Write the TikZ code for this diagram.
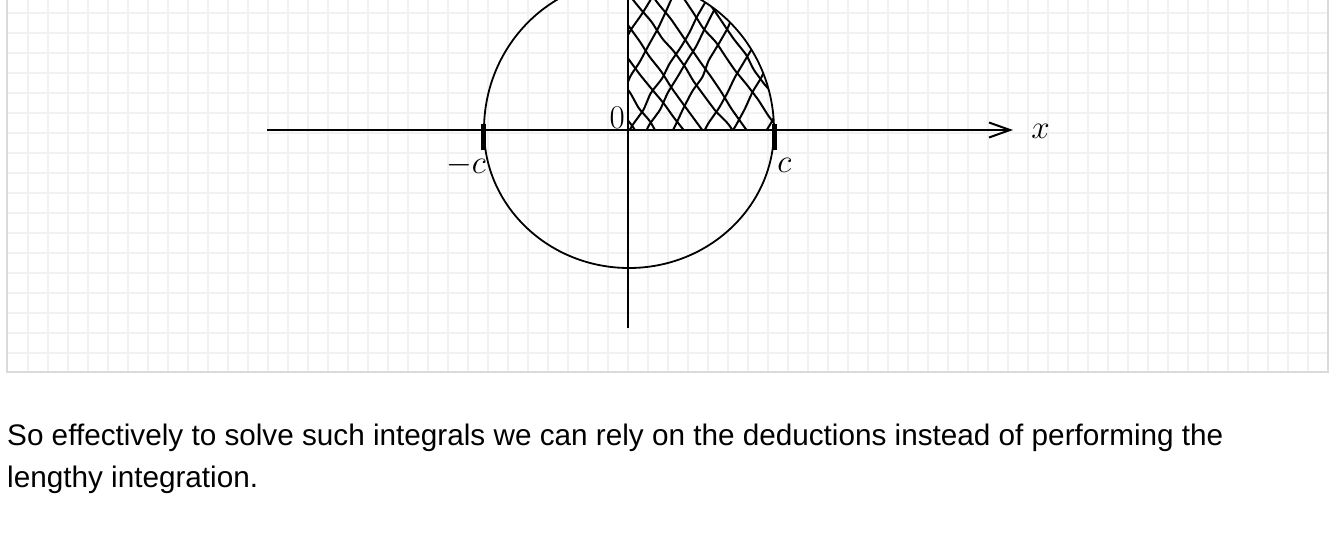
\documentclass[tikz,border=0pt]{standalone}
\usepackage{fontspec}
\usepackage{tikz}
\usetikzlibrary{arrows.meta, positioning, decorations.pathmorphing}
\newfontfamily\notefont{Liberation Sans}
\definecolor{gridgray}{RGB}{241,241,241}
\definecolor{framegray}{RGB}{218,218,218}
\tikzset{
  gridline/.style={draw=gridgray, line width=1.5pt},
  frame/.style={draw=framegray, line width=1.5pt},
  axis/.style={line width=2pt},
  curve/.style={line width=1.8pt},
  hatch/.style={line width=2pt, line cap=round, line join=round, rounded corners=3pt,
    decorate, decoration={random steps, segment length=18pt, amplitude=1.5pt}},
  tickmark/.style={line width=5pt},
  mathlabel/.style={font=\Huge, scale=1.33, transform shape, inner sep=0pt},
  note/.style={font=\notefont\fontsize{29.7}{42}\selectfont, inner sep=0pt}
}

\begin{document}
\begin{tikzpicture}[x=1pt, y=1pt]
  \pgfmathsetseed{11}
  \useasboundingbox (-629,-412) rectangle (711,130);
  \clip (-629,-412) rectangle (711,130);

  % Squared paper panel
  \foreach \gx in {-601,-581,...,679}
    \draw[gridline] (\gx,-242) -- (\gx,140);
  \foreach \gy in {-223,-203,...,117}
    \draw[gridline] (-622,\gy) -- (699,\gy);
  \draw[frame] (-622,140) -- (-622,-242) -- (699,-242) -- (699,140);

  % Hatched quarter
  \begin{scope}
    \clip (0,0) -- (145,0) arc[start angle=0, end angle=90, x radius=145, y radius=150] -- cycle;
    \foreach \a/\dx in {-150/115,-118/125,-90/110,-60/120,-32/112,-5/125,13/118,39/110,71/122,98/112,131/118}
      \draw[hatch] (\a,-10) -- ++(\dx,210);
    \foreach \b/\dy in {20/-285,52/-300,84/-275,118/-295,150/-280,184/-300,218/-285,252/-295,286/-280,320/-290,354/-285}
      \draw[hatch] (-10,\b) -- ++(210,\dy);
  \end{scope}

  % Circle, upper and lower half
  \draw[curve] (145,0) arc[start angle=0, end angle=180, x radius=145, y radius=150];
  \draw[curve] (-145,0) arc[start angle=180, end angle=360, x radius=145, y radius=138];

  % Axes
  \coordinate (xstart) at (-362,0);
  \coordinate (xend)   at (384,0);
  \coordinate (ybot)   at (-1,-198);
  \coordinate (ytop)   at (-1,140);
  \draw[axis, -{Straight Barb[length=21pt, width=15pt]}] (xstart) -- (xend);
  \draw[axis] (ybot) -- (ytop);

  % Ticks at -c and c
  \coordinate (lefttick)  at (-145,0);
  \coordinate (righttick) at (145,0);
  \draw[tickmark] ([yshift=6pt]lefttick) -- ([yshift=-20pt]lefttick);
  \draw[tickmark] ([yshift=6pt]righttick) -- ([yshift=-20pt]righttick);

  % Labels
  \node[mathlabel, anchor=base east] (zero) at (-4,2)    {$0$};
  \node[mathlabel, anchor=base east] (negc) at (-143,-43) {$-c$};
  \node[mathlabel, anchor=base west] (posc) at (148,-42) {$c$};
  \node[mathlabel, anchor=base west] (xlab) at (402,-8)  {$x$};

  % Text below the panel
  \node[note, anchor=base west] (line1) at (-622,-315)
    {So effectively to solve such integrals we can rely on the deductions instead of performing the};
  \node[note, anchor=base west] (line2) at ([yshift=-42pt]line1.base west)
    {lengthy integration.};
\end{tikzpicture}
\end{document}
